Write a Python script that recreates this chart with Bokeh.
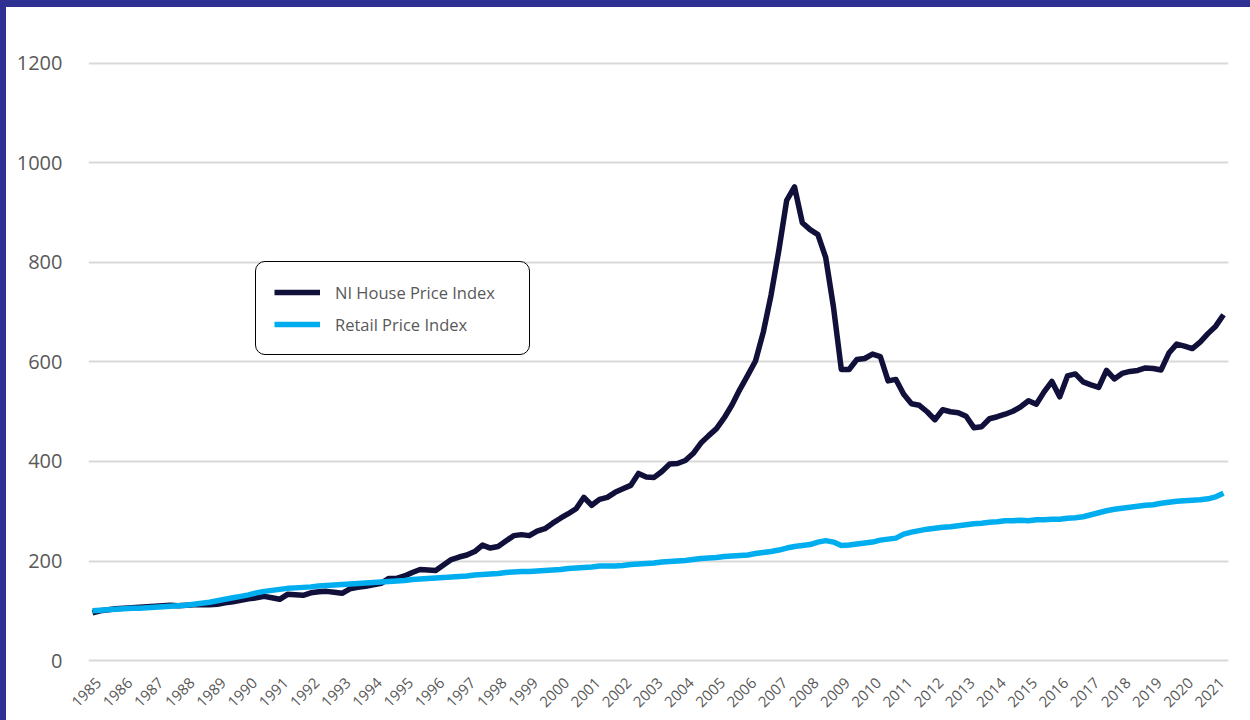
import math
from bokeh.plotting import figure
from bokeh.models import (ColumnDataSource, Range1d, FixedTicker, Legend, LegendItem,
                          GlobalInlineStyleSheet, CustomJSTickFormatter)
from bokeh.embed import file_html
from bokeh.resources import INLINE

# ---- data (quarterly, 1985 Q1 .. 2021 Q2) ----
years = list(range(1985, 2022))
series_names = ["NI House Price Index", "Retail Price Index"]

hpi = [
    96, 100, 102, 104,        # 1985
    105, 106, 107, 108,       # 1986
    109, 110, 111, 110,       # 1987
    111, 112, 112, 112,       # 1988
    113, 116, 118, 121,       # 1989
    124, 126, 129, 126,       # 1990
    123, 133, 132, 131,       # 1991
    136, 138, 139, 137,       # 1992
    135, 144, 147, 149,       # 1993
    152, 155, 165, 165,       # 1994
    170, 177, 183, 182,       # 1995
    181, 192, 203, 208,       # 1996
    212, 219, 232, 226,       # 1997
    229, 240, 251, 253,       # 1998
    251, 260, 265, 276,       # 1999
    286, 295, 305, 328,       # 2000
    312, 324, 328, 338,       # 2001
    345, 352, 376, 369,       # 2002
    368, 380, 395, 396,       # 2003
    402, 416, 437, 452,       # 2004
    466, 488, 514, 545,       # 2005
    573, 602, 660, 735,       # 2006
    825, 925, 952, 880,       # 2007
    866, 856, 810, 710,       # 2008
    585, 585, 605, 607,       # 2009
    616, 611, 562, 565,       # 2010
    535, 516, 513, 500,       # 2011
    484, 504, 500, 498,       # 2012
    491, 468, 470, 486,       # 2013
    490, 495, 501, 510,       # 2014
    522, 515, 540, 561,       # 2015
    530, 572, 576, 560,       # 2016
    554, 549, 583, 566,       # 2017
    577, 581, 583, 588,       # 2018
    587, 584, 618, 636,       # 2019
    632, 627, 640, 657,       # 2020
    672, 695,                 # 2021
]

rpi = [
    100, 101, 102, 103,       # 1985
    104, 105, 105, 106,       # 1986
    107, 108, 109, 110,       # 1987
    111, 113, 115, 117,       # 1988
    120, 123, 126, 129,       # 1989
    132, 136, 139, 141,       # 1990
    143, 145, 146, 147,       # 1991
    148, 150, 151, 152,       # 1992
    153, 154, 155, 156,       # 1993
    157, 158, 159, 160,       # 1994
    161, 163, 164, 165,       # 1995
    166, 167, 168, 169,       # 1996
    170, 172, 173, 174,       # 1997
    175, 177, 178, 179,       # 1998
    179, 180, 181, 182,       # 1999
    183, 185, 186, 187,       # 2000
    188, 190, 190, 190,       # 2001
    191, 193, 194, 195,       # 2002
    196, 198, 199, 200,       # 2003
    201, 203, 205, 206,       # 2004
    207, 209, 210, 211,       # 2005
    212, 215, 217, 219,       # 2006
    222, 226, 229, 231,       # 2007
    233, 238, 241, 238,       # 2008
    231, 232, 234, 236,       # 2009
    238, 242, 244, 246,       # 2010
    254, 258, 261, 264,       # 2011
    266, 268, 269, 271,       # 2012
    273, 275, 276, 278,       # 2013
    279, 281, 281, 282,       # 2014
    281, 283, 283, 284,       # 2015
    284, 286, 287, 289,       # 2016
    293, 297, 301, 304,       # 2017
    306, 308, 310, 312,       # 2018
    313, 316, 318, 320,       # 2019
    321, 322, 323, 325,       # 2020
    329, 336,                 # 2021
]

y_ticks = [0, 200, 400, 600, 800, 1000, 1200]

# time index of each quarter
t = [1985 + i / 4 for i in range(len(hpi))]
src = ColumnDataSource(dict(t=t, hpi=hpi, rpi=rpi))

NAVY = "#10103A"
LBLUE = "#00AEEF"
GREY_TXT = "#595959"
FONT = "Open Sans"

p = figure(width=1244, height=713, output_backend="svg", toolbar_location=None,
           x_range=Range1d(1984.872, 2021.41), y_range=Range1d(-4, 1210),
           min_border_left=82, min_border_right=22, min_border_top=51, min_border_bottom=58,
           background_fill_color="white", border_fill_color="white")
p.outline_line_color = None

r_hpi = p.line("t", "hpi", source=src, line_color=NAVY, line_width=5.5, line_join="round")
r_rpi = p.line("t", "rpi", source=src, line_color=LBLUE, line_width=5.5, line_join="round")

# axes
p.yaxis.ticker = FixedTicker(ticks=y_ticks)
p.yaxis.axis_line_color = None
p.yaxis.major_tick_line_color = None
p.yaxis.minor_tick_line_color = None
p.yaxis.major_label_text_font = FONT
p.yaxis.major_label_text_font_size = "20px"
p.yaxis.major_label_text_color = GREY_TXT
p.yaxis.major_label_standoff = 20

p.xaxis.ticker = FixedTicker(ticks=[y + 0.2 for y in years])
p.xaxis.formatter = CustomJSTickFormatter(code="return Math.floor(tick).toFixed(0);")
p.xaxis.major_label_orientation = math.pi / 4
p.xaxis.axis_line_color = None
p.xaxis.major_tick_line_color = None
p.xaxis.minor_tick_line_color = None
p.xaxis.major_label_text_font = FONT
p.xaxis.major_label_text_font_size = "15px"
p.xaxis.major_label_text_color = GREY_TXT
p.xaxis.major_label_standoff = 12

p.xgrid.grid_line_color = None
p.ygrid.grid_line_color = "#D9D9D9"
p.ygrid.grid_line_width = 2

legend = Legend(items=[LegendItem(label=series_names[0], renderers=[r_hpi]),
                       LegendItem(label=series_names[1], renderers=[r_rpi])],
                location=(167, 307), orientation="vertical",
                padding=18, margin=0, spacing=8,
                glyph_width=46, glyph_height=24, label_height=24, label_width=176,
                label_standoff=15,
                label_text_font=FONT, label_text_font_size="16.5px", label_text_color=GREY_TXT,
                border_line_color="black", border_line_width=1.2, border_line_alpha=1.0,
                background_fill_color="white", background_fill_alpha=1)
if "border_radius" in Legend.properties():
    legend.border_radius = 10
p.add_layout(legend, "center")

p.stylesheets = [GlobalInlineStyleSheet(css=(
    "html, body { margin: 0; padding: 0; background-color: white; overflow: hidden; }"
    "body { box-sizing: border-box; border-top: 7px solid #2E3192; border-left: 6px solid #2E3192; }"
))]

open("out.html", "w").write(file_html(p, INLINE))
